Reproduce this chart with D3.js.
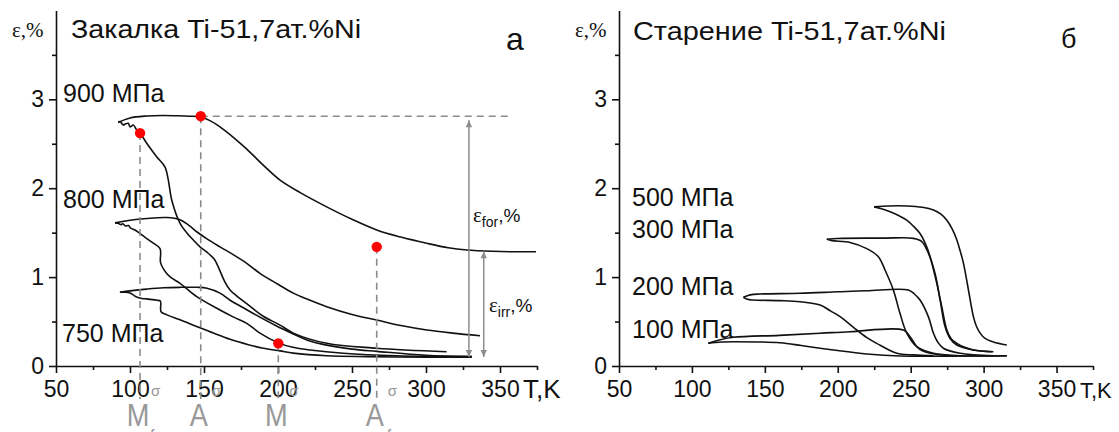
<!DOCTYPE html>
<html>
<head>
<meta charset="utf-8">
<script src="https://cdn.jsdelivr.net/npm/d3@7"></script>
<style>
  body { margin: 0; background: #fff; }
  svg { display: block; font-family: "Liberation Sans", Arial, sans-serif; }
</style>
</head>
<body>
<svg id="chart" width="1119" height="432"></svg>
<script>
// ---- axis ticks ----
const tempTicks = [50, 100, 150, 200, 250, 300, 350];
const tempMinor = [75, 125, 175, 225, 275, 325, 375];
const strainTicks = [0, 1, 2, 3];
const strainMinor = [0.5, 1.5, 2.5, 3.5];

// ---- quenched Ti-51.7at.%Ni: [T, K ; strain, %] ----
const quench900Heat = [[92.1,2.74],[100,2.79],[111.3,2.812],[122,2.818],[131.6,2.815],[140,2.81],[147.8,2.80],[154,2.76],[160.8,2.69],[170,2.57],[178.9,2.44],[190,2.26],[201.4,2.09],[215,1.95],[232.9,1.79],[250,1.65],[266.7,1.53],[283,1.45],[300.5,1.38],[315,1.33],[327.5,1.305],[345,1.29],[360,1.285],[374.3,1.286]];
const quench900Cool = [[92.1,2.74],[93.2,2.75],[95.5,2.71],[97,2.725],[98.9,2.73],[100,2.69],[102.2,2.71],[104.5,2.655],[106.8,2.62],[111.3,2.505],[118,2.354],[123.6,2.24],[125.9,2.09],[128.2,1.867],[133.8,1.605],[138.3,1.5],[142.8,1.417],[147.3,1.34],[152,1.28],[157,1.2],[160,1.1],[164,0.95],[167.6,0.855],[172,0.79],[178.6,0.705],[190,0.56],[201.4,0.46],[210.4,0.37],[232.9,0.255],[266.7,0.2],[313.9,0.16]];
const quench800Heat = [[89.9,1.61],[100,1.64],[111.3,1.66],[124.8,1.67],[133.8,1.645],[140,1.58],[145.1,1.51],[152,1.43],[160.8,1.34],[170,1.25],[178.9,1.155],[188,1.04],[200,0.92],[210.3,0.82],[220,0.75],[232.9,0.667],[250,0.58],[266.7,0.517],[283,0.455],[300.5,0.405],[318,0.37],[336.5,0.34]];
const quench800Cool = [[89.9,1.61],[92,1.605],[94,1.59],[95,1.6],[97,1.575],[99,1.58],[100.5,1.55],[103.4,1.53],[106,1.5],[110,1.45],[115,1.39],[120.3,1.32],[120.7,1.16],[124.8,1.04],[128,0.99],[133.8,0.93],[145.1,0.78],[160.8,0.63],[170,0.55],[178.9,0.48],[187.8,0.37],[200.2,0.26],[210,0.21],[221.6,0.18],[244.1,0.143],[280,0.115],[330.9,0.105]];
const quench750Heat = [[93.2,0.83],[100,0.845],[111.3,0.865],[122.5,0.88],[133.8,0.885],[145.1,0.885],[152,0.875],[160.8,0.82],[167.6,0.74],[175,0.67],[183.3,0.59],[199,0.45],[210.4,0.36],[220,0.29],[232.9,0.235],[250,0.19],[266.7,0.165],[300,0.12],[330.9,0.105]];
const quench750Cool = [[93.2,0.83],[97,0.83],[100,0.82],[102.2,0.80],[104.5,0.775],[108,0.76],[111.3,0.755],[118,0.74],[120.5,0.73],[121,0.61],[125,0.575],[133.8,0.52],[145,0.445],[156.3,0.37],[167.6,0.3],[180,0.24],[190,0.2],[201.4,0.17],[210.3,0.145],[232.9,0.115],[260,0.105],[300,0.1],[330.9,0.098]];

// ---- aged Ti-51.7at.%Ni ----
const aged500Heat = [[224.9,1.79],[235,1.80],[247.3,1.80],[258,1.785],[265.6,1.755],[270.5,1.71],[274.8,1.64],[278.5,1.54],[281.6,1.42],[284,1.29],[286.2,1.155],[289.6,0.855],[293,0.555],[295,0.45],[297.6,0.37],[301,0.31],[306.7,0.27],[315.9,0.236]];
const aged500Cool = [[224.9,1.79],[230,1.77],[235.9,1.735],[242,1.69],[247.3,1.64],[252,1.57],[256.4,1.49],[260,1.38],[263.3,1.23],[267.9,0.93],[271.3,0.667],[274.8,0.405],[278,0.3],[281.6,0.255],[287,0.21],[293,0.18],[306.7,0.16]];
const aged300Heat = [[192.5,1.425],[200,1.435],[230,1.438],[251.9,1.436],[257.6,1.40],[262.1,1.27],[266.7,1.04],[270.2,0.74],[273.6,0.44],[277,0.31],[281.6,0.236],[293,0.18],[305.6,0.16]];
const aged300Cool = [[192.5,1.425],[196,1.41],[208.4,1.39],[219.9,1.32],[227.8,1.23],[232.4,1.08],[238.1,0.855],[242.7,0.59],[247.3,0.37],[254.2,0.217],[265.6,0.143],[283.9,0.116],[315.9,0.116]];
const aged200Heat = [[135.3,0.773],[140,0.8],[146.7,0.81],[174.1,0.818],[200,0.835],[219.9,0.847],[248.4,0.855],[252.5,0.81],[256.4,0.742],[262.1,0.555],[265.6,0.368],[268.5,0.27],[272.4,0.2],[283.9,0.143],[306.7,0.116]];
const aged200Cool = [[135.3,0.773],[138,0.75],[142.1,0.742],[160,0.735],[174.1,0.723],[187.9,0.686],[195,0.62],[201.6,0.555],[213,0.405],[220,0.32],[226.7,0.255],[240.5,0.143],[252,0.125],[265.6,0.116]];
const aged100Heat = [[111.2,0.255],[118,0.29],[128.4,0.323],[160,0.345],[187.9,0.368],[208.4,0.386],[245,0.405],[249.6,0.33],[254.2,0.217],[258,0.17],[263.3,0.143],[277,0.116]];
const aged100Cool = [[111.2,0.255],[120,0.27],[128.4,0.273],[160.4,0.262],[175,0.23],[187.9,0.2],[197,0.18],[219.9,0.135],[242.7,0.112],[288.4,0.112],[315.9,0.116]];

// ---- characteristic temperatures (900 MPa) ----
const markerNames = ["M", "A", "M", "A"];
const markerSubs = ["f", "s", "s", "f"];
const markerTemps = [106.8, 147.8, 200.2, 266.7];
const markerStrains = [2.62, 2.81, 0.255, 1.34];

// ε_for / ε_irr double arrows
const forTemp = 329, forTop = 2.81, forBottom = 0.1;
const irrTemp = 339, irrTop = 1.29, irrBottom = 0.1;
const guideEndTemp = 358;

const svg = d3.select("#chart");
const INK = "#111";
const GREY = "#8c8c8c";
const LABEL_GREY = "#989898";

const defs = svg.append("defs");
defs.append("marker")
  .attr("id", "arrow")
  .attr("viewBox", "0 0 10 10")
  .attr("refX", 10).attr("refY", 5)
  .attr("markerWidth", 12).attr("markerHeight", 7)
  .attr("markerUnits", "userSpaceOnUse")
  .attr("orient", "auto-start-reverse")
  .append("path").attr("d", "M0,0.5 L10,5 L0,9.5 Z").attr("fill", GREY);

function drawPanel(xRange) {
  const x = d3.scaleLinear().domain([50, 375]).range(xRange);
  const y = d3.scaleLinear().domain([0, 4]).range([366, 10.4]);
  const g = svg.append("g");

  const styleAxis = s => {
    s.selectAll("path,line").attr("stroke", INK).attr("stroke-width", 1.6);
    s.selectAll("text").attr("fill", INK).attr("font-size", 23)
      .attr("font-family", '"Liberation Sans", Arial, sans-serif');
  };

  g.append("g").attr("transform", `translate(0,${y(0)})`)
    .call(d3.axisBottom(x).tickValues(tempMinor).tickSize(4).tickFormat(""))
    .call(s => s.select(".domain").remove()).call(styleAxis);
  g.append("g").attr("transform", `translate(0,${y(0)})`)
    .call(d3.axisBottom(x).tickValues(tempTicks).tickSize(7).tickPadding(8)
      .tickSizeOuter(0).tickFormat(d3.format("d")))
    .call(styleAxis);
  g.append("g").attr("transform", `translate(${x(50)},0)`)
    .call(d3.axisLeft(y).tickValues(strainMinor).tickSize(4).tickFormat(""))
    .call(s => s.select(".domain").remove()).call(styleAxis);
  g.append("g").attr("transform", `translate(${x(50)},0)`)
    .call(d3.axisLeft(y).tickValues(strainTicks).tickSize(7).tickPadding(5)
      .tickSizeOuter(0).tickFormat(d3.format("d")))
    .call(styleAxis);

  return { x, y, g };
}

function drawCurves(p, series) {
  const line = d3.line().x(d => p.x(d[0])).y(d => p.y(d[1]))
    .curve(d3.curveCatmullRom.alpha(0.5));
  p.g.selectAll(null).data(series).enter().append("path")
    .attr("d", line).attr("fill", "none")
    .attr("stroke", INK).attr("stroke-width", 1.6)
    .attr("stroke-linejoin", "round");
}

function addText(x, y, str, size, width) {
  const t = svg.append("text").attr("x", x).attr("y", y)
    .attr("font-size", size).attr("fill", INK).text(str);
  if (width) t.attr("textLength", width).attr("lengthAdjust", "spacingAndGlyphs");
  return t;
}

function axisLabels(p, tkX, tkSize) {
  svg.append("text").attr("x", p.x(50) - 44).attr("y", 37)
    .attr("font-family", '"Liberation Serif", "Times New Roman", serif')
    .attr("font-size", 21).attr("fill", INK).text("ε,%");
  svg.append("text").attr("x", tkX).attr("y", 398)
    .attr("font-size", tkSize).attr("fill", INK).text("T,K");
}

// ---------- left panel: quenched ----------
const L = drawPanel([56, 537]);
drawCurves(L, [quench900Heat, quench900Cool, quench800Heat, quench800Cool, quench750Heat, quench750Cool]);
axisLabels(L, 523, 26);
addText(71, 38, "Закалка Ti-51,7ат.%Ni", 25, 290);
addText(506, 50, "а", 32);
addText(63, 102, "900 МПа", 25);
addText(63, 208, "800 МПа", 25);
addText(62, 342, "750 МПа", 25);

// guides at characteristic temperatures
L.g.selectAll(null).data(markerTemps).enter().append("line")
  .attr("x1", d => L.x(d)).attr("x2", d => L.x(d))
  .attr("y1", (d, i) => L.y(markerStrains[i])).attr("y2", 399)
  .attr("stroke", GREY).attr("stroke-width", 1.6).attr("stroke-dasharray", "7,5");
L.g.append("line")
  .attr("x1", L.x(markerTemps[1])).attr("x2", L.x(guideEndTemp))
  .attr("y1", L.y(markerStrains[1])).attr("y2", L.y(markerStrains[1]))
  .attr("stroke", GREY).attr("stroke-width", 1.6).attr("stroke-dasharray", "7,5");

// ε_for and ε_irr double arrows
[[forTemp, forTop, forBottom, 4], [irrTemp, irrTop, irrBottom, 0]].forEach(([t, top, bot, gap]) => {
  L.g.append("line")
    .attr("x1", L.x(t)).attr("x2", L.x(t))
    .attr("y1", L.y(top) + gap).attr("y2", L.y(bot))
    .attr("stroke", GREY).attr("stroke-width", 1.5)
    .attr("marker-start", "url(#arrow)").attr("marker-end", "url(#arrow)");
});

function epsLabel(x, y, sub) {
  const t = svg.append("text").attr("x", x).attr("y", y).attr("fill", INK);
  t.append("tspan").attr("font-family", '"Liberation Serif", serif').attr("font-size", 21).text("ε");
  t.append("tspan").attr("font-size", 14).attr("dy", 5).text(sub);
  t.append("tspan").attr("font-size", 19).attr("dy", -5).text(",%");
}
epsLabel(473, 222, "for");
epsLabel(489, 312, "irr");

// red points
L.g.selectAll(null).data(markerTemps).enter().append("circle")
  .attr("cx", d => L.x(d)).attr("cy", (d, i) => L.y(markerStrains[i]))
  .attr("r", 5.2).attr("fill", "#ff0000");

// M/A temperature labels under the axis
markerTemps.forEach((t, i) => {
  const cx = L.x(t);
  svg.append("text").attr("transform", `translate(${cx - 2},426) scale(0.85,1)`)
    .attr("text-anchor", "middle").attr("font-size", 32).attr("fill", LABEL_GREY)
    .text(markerNames[i]);
  svg.append("text").attr("x", cx + 11).attr("y", 396)
    .attr("font-size", 15).attr("fill", LABEL_GREY).text("σ");
  svg.append("text").attr("x", cx + 10).attr("y", 441)
    .attr("font-size", 16).attr("fill", LABEL_GREY).text(markerSubs[i]);
});

// ---------- right panel: aged ----------
const R = drawPanel([619, 1093]);
drawCurves(R, [aged500Heat, aged500Cool, aged300Heat, aged300Cool, aged200Heat, aged200Cool, aged100Heat, aged100Cool]);
axisLabels(R, 1080, 22);
addText(633, 40, "Старение Ti-51,7ат.%Ni", 25, 313);
addText(1061, 48, "б", 27);
addText(632, 206, "500 МПа", 25);
addText(632, 238, "300 МПа", 25);
addText(632, 295, "200 МПа", 25);
addText(632, 338, "100 МПа", 25);
</script>
</body>
</html>
